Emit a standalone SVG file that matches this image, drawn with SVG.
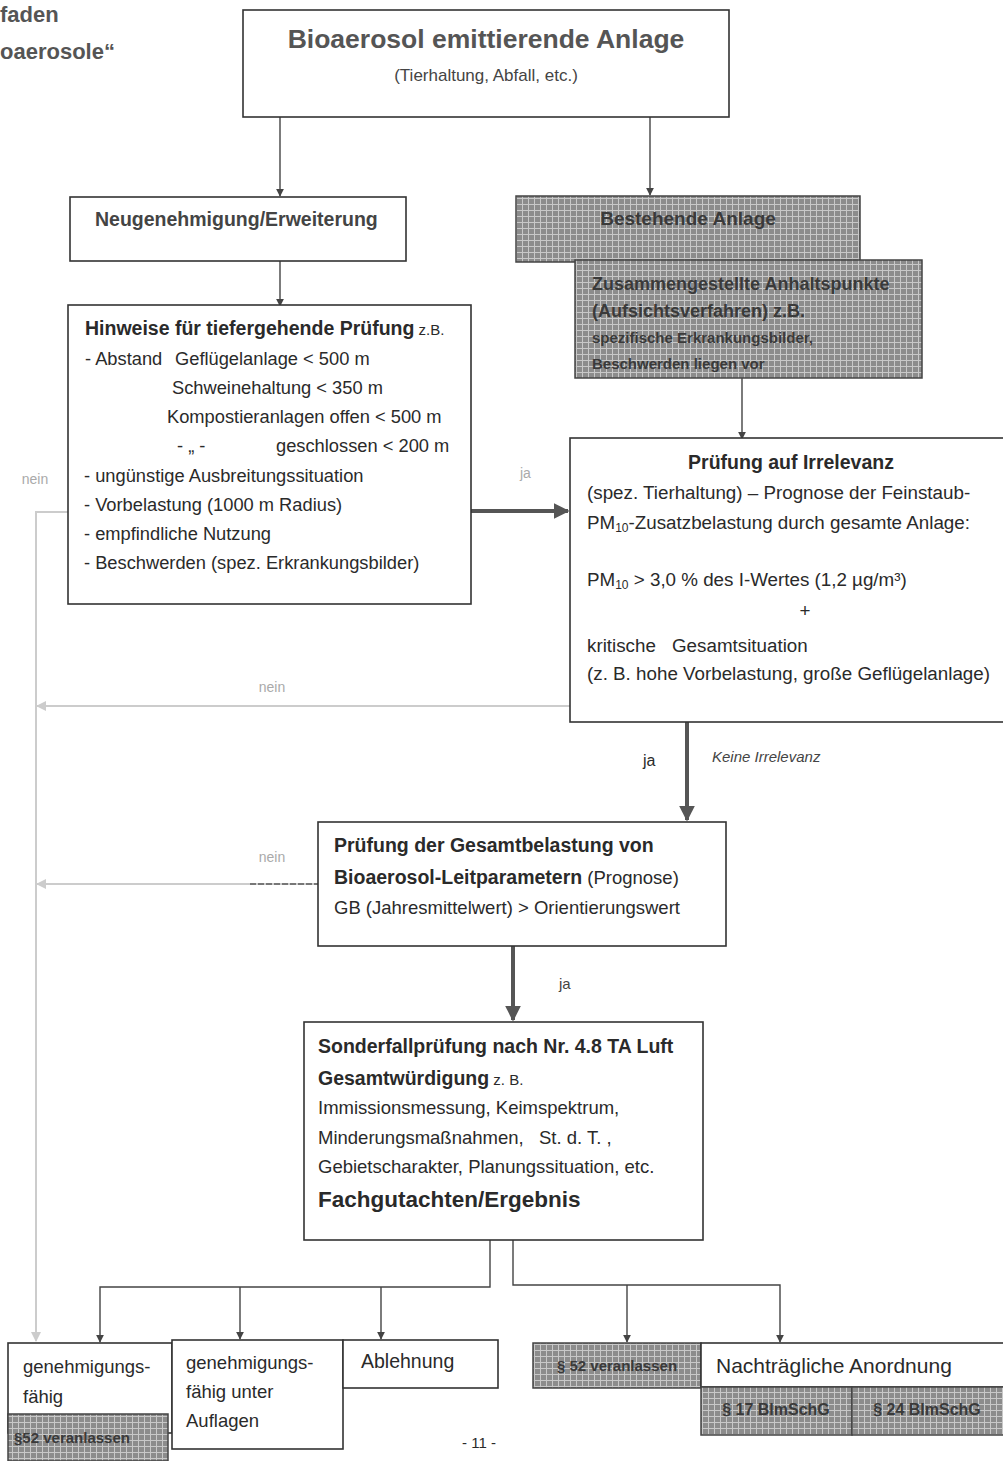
<svg xmlns="http://www.w3.org/2000/svg" width="1003" height="1461" viewBox="0 0 1003 1461">
<style>
text{font-family:"Liberation Sans","Open Sans",sans-serif;fill:#2a2a2a}
.b{font-weight:bold}
.box{fill:#fff;stroke:#333;stroke-width:1.6}
.gbox{fill:url(#hatch);stroke:#444;stroke-width:1.5}
.gt{fill:#3a3a3a;font-weight:bold}
.ln{fill:none;stroke:#444;stroke-width:1.4}
.thick{fill:none;stroke:#555;stroke-width:4}
.faint{fill:none;stroke:#ccc;stroke-width:2}
.lbl{fill:#aaa;font-size:14px}
</style>
<defs>
<pattern id="hatch" width="6" height="6" patternUnits="userSpaceOnUse">
<rect width="6" height="6" fill="#8c8c8c"/>
<path d="M0 0.5H6M0.5 0V6" stroke="#c8c8c8" stroke-width="1"/>
</pattern>
<marker id="ah" viewBox="0 0 10 10" refX="9" refY="5" markerWidth="8" markerHeight="8" orient="auto" markerUnits="userSpaceOnUse">
<path d="M0 0L10 5L0 10z" fill="#444"/>
</marker>
<marker id="ahT" viewBox="0 0 10 10" refX="9" refY="5" markerWidth="4" markerHeight="4" orient="auto">
<path d="M0 0L10 5L0 10z" fill="#555"/>
</marker>
<marker id="ahF" viewBox="0 0 10 10" refX="9" refY="5" markerWidth="5" markerHeight="5" orient="auto">
<path d="M0 0L10 5L0 10z" fill="#ccc"/>
</marker>
</defs>

<text x="0" y="22" class="b" style="font-size:22px;fill:#555">faden</text>
<text x="0" y="59" class="b" style="font-size:22px;fill:#555">oaerosole“</text>

<g id="connectors">
<path class="ln" d="M280 117V196" marker-end="url(#ah)"/>
<path class="ln" d="M650 117V195" marker-end="url(#ah)"/>
<path class="ln" d="M280 261V306" marker-end="url(#ah)"/>
<path class="ln" d="M742 378V439" marker-end="url(#ah)"/>
<path class="thick" d="M471 511H568" marker-end="url(#ahT)"/>
<path class="thick" d="M687 722V820" marker-end="url(#ahT)"/>
<path class="thick" d="M513 946V1020" marker-end="url(#ahT)"/>
<path class="faint" d="M68 512H36V1341" marker-end="url(#ahF)"/>
<path class="faint" d="M570 706H37" marker-end="url(#ahF)"/>
<path class="faint" d="M318 884H37" marker-end="url(#ahF)"/>
<path d="M250 884H318" stroke="#777" stroke-width="2" stroke-dasharray="6 2"/>
<path class="ln" d="M490 1240V1287H100V1342" marker-end="url(#ah)"/>
<path class="ln" d="M240 1287V1339" marker-end="url(#ah)"/>
<path class="ln" d="M381 1287V1339" marker-end="url(#ah)"/>
<path class="ln" d="M513 1240V1285H780V1342" marker-end="url(#ah)"/>
<path class="ln" d="M627 1285V1342" marker-end="url(#ah)"/>
<text x="35" y="484" class="lbl" text-anchor="middle">nein</text>
<text x="520" y="478" class="lbl">ja</text>
<text x="272" y="692" class="lbl" text-anchor="middle">nein</text>
<text x="272" y="862" class="lbl" text-anchor="middle">nein</text>
<text x="643" y="766" style="font-size:16px">ja</text>
<text x="712" y="762" style="font-size:15px;font-style:italic;fill:#444">Keine Irrelevanz</text>
<text x="559" y="989" style="font-size:15px;fill:#444">ja</text>
</g>

<g id="n-anlage">
<rect class="box" x="243" y="10" width="486" height="107"/>
<text x="486" y="48" text-anchor="middle" class="b" style="font-size:26.5px;fill:#555">Bioaerosol emittierende Anlage</text>
<text x="486" y="81" text-anchor="middle" style="font-size:17px;fill:#444">(Tierhaltung, Abfall, etc.)</text>
</g>

<g id="n-neu">
<rect class="box" x="70" y="197" width="336" height="64"/>
<text x="95" y="226" class="b" style="font-size:19.5px;fill:#444">Neugenehmigung/Erweiterung</text>
</g>

<g id="n-bestehend">
<rect class="gbox" x="516" y="196" width="344" height="66"/>
<text x="688" y="225" text-anchor="middle" class="gt" style="font-size:19px">Bestehende Anlage</text>
</g>

<g id="n-anhalt">
<rect class="gbox" x="575" y="260" width="347" height="118"/>
<text x="592" y="290" class="gt" style="font-size:18px">Zusammengestellte Anhaltspunkte</text>
<text x="592" y="317" class="gt" style="font-size:18px">(Aufsichtsverfahren) z.B.</text>
<text x="592" y="343" class="gt" style="font-size:15px">spezifische Erkrankungsbilder,</text>
<text x="592" y="369" class="gt" style="font-size:15px">Beschwerden liegen vor</text>
</g>

<g id="n-hinweise">
<rect class="box" x="68" y="305" width="403" height="299"/>
<text x="85" y="335" style="font-size:19.5px"><tspan class="b">Hinweise für tiefergehende Prüfung</tspan><tspan style="font-size:15px"> z.B.</tspan></text>
<g style="font-size:18.3px">
<text x="85" y="365">- Abstand</text>
<text x="175" y="365">Geflügelanlage &lt; 500 m</text>
<text x="172" y="394">Schweinehaltung &lt; 350 m</text>
<text x="167" y="423">Kompostieranlagen offen &lt; 500 m</text>
<text x="177" y="452">- „ -</text>
<text x="276" y="452">geschlossen &lt; 200 m</text>
<text x="84" y="482">- ungünstige Ausbreitungssituation</text>
<text x="84" y="511">- Vorbelastung (1000 m Radius)</text>
<text x="84" y="540">- empfindliche Nutzung</text>
<text x="84" y="569">- Beschwerden (spez. Erkrankungsbilder)</text>
</g>
</g>

<g id="n-irrelevanz">
<rect class="box" x="570" y="438" width="440" height="284"/>
<text x="791" y="469" text-anchor="middle" class="b" style="font-size:19.5px">Prüfung auf Irrelevanz</text>
<g style="font-size:18.8px">
<text x="587" y="499">(spez. Tierhaltung) – Prognose der Feinstaub-</text>
<text x="587" y="529">PM<tspan style="font-size:12px" dy="3">10</tspan><tspan dy="-3">-Zusatzbelastung durch gesamte Anlage:</tspan></text>
<text x="587" y="586">PM<tspan style="font-size:12px" dy="3">10</tspan><tspan dy="-3"> &gt; 3,0 % des I-Wertes (1,2 µg/m³)</tspan></text>
<text x="805" y="617" text-anchor="middle">+</text>
<text x="587" y="652">kritische</text>
<text x="672" y="652">Gesamtsituation</text>
<text x="587" y="680">(z. B. hohe Vorbelastung, große Geflügelanlage)</text>
</g>
</g>

<g id="n-gesamt">
<rect class="box" x="318" y="822" width="408" height="124"/>
<text x="334" y="852" class="b" style="font-size:19.5px">Prüfung der Gesamtbelastung von</text>
<text x="334" y="884" style="font-size:19.5px"><tspan class="b">Bioaerosol-Leitparametern</tspan><tspan style="font-size:18.5px"> (Prognose)</tspan></text>
<text x="334" y="914" style="font-size:18.5px">GB (Jahresmittelwert) &gt; Orientierungswert</text>
</g>

<g id="n-sonderfall">
<rect class="box" x="304" y="1022" width="399" height="218"/>
<text x="318" y="1053" class="b" style="font-size:19.5px">Sonderfallprüfung nach Nr. 4.8 TA Luft</text>
<text x="318" y="1085" style="font-size:19.5px"><tspan class="b">Gesamtwürdigung</tspan><tspan style="font-size:15px"> z. B.</tspan></text>
<g style="font-size:18.5px">
<text x="318" y="1114">Immissionsmessung, Keimspektrum,</text>
<text x="318" y="1144">Minderungsmaßnahmen,</text>
<text x="539" y="1144">St. d. T. ,</text>
<text x="318" y="1173">Gebietscharakter, Planungssituation, etc.</text>
</g>
<text x="318" y="1207" class="b" style="font-size:22.5px">Fachgutachten/Ergebnis</text>
</g>

<g id="n-genfaehig">
<rect class="box" x="8" y="1343" width="164" height="90"/>
<text x="23" y="1373" style="font-size:18.5px">genehmigungs-</text>
<text x="23" y="1403" style="font-size:18.5px">fähig</text>
</g>
<g id="n-genfaehig-52">
<rect class="gbox" x="8" y="1414" width="160" height="47"/>
<text x="14" y="1443" class="gt" style="font-size:15px">§52 veranlassen</text>
</g>

<g id="n-auflagen">
<rect class="box" x="172" y="1340" width="171" height="109"/>
<text x="186" y="1369" style="font-size:18.5px">genehmigungs-</text>
<text x="186" y="1398" style="font-size:18.5px">fähig unter</text>
<text x="186" y="1427" style="font-size:18.5px">Auflagen</text>
</g>

<g id="n-ablehnung">
<rect class="box" x="343" y="1340" width="155" height="48"/>
<text x="361" y="1368" style="font-size:19.5px">Ablehnung</text>
</g>

<g id="n-52">
<rect class="gbox" x="533" y="1343" width="168" height="45"/>
<text x="617" y="1371" text-anchor="middle" class="gt" style="font-size:15px">§ 52 veranlassen</text>
</g>

<g id="n-nachtraeglich">
<rect class="box" x="701" y="1343" width="310" height="44"/>
<text x="716" y="1373" style="font-size:21px">Nachträgliche Anordnung</text>
</g>
<g id="n-17">
<rect class="gbox" x="701" y="1387" width="151" height="48"/>
<text x="776" y="1415" text-anchor="middle" class="gt" style="font-size:16px">§ 17 BImSchG</text>
</g>
<g id="n-24">
<rect class="gbox" x="852" y="1387" width="160" height="48"/>
<text x="927" y="1415" text-anchor="middle" class="gt" style="font-size:16px">§ 24 BImSchG</text>
</g>

<text x="479" y="1448" text-anchor="middle" style="font-size:15px">- 11 -</text>
</svg>
